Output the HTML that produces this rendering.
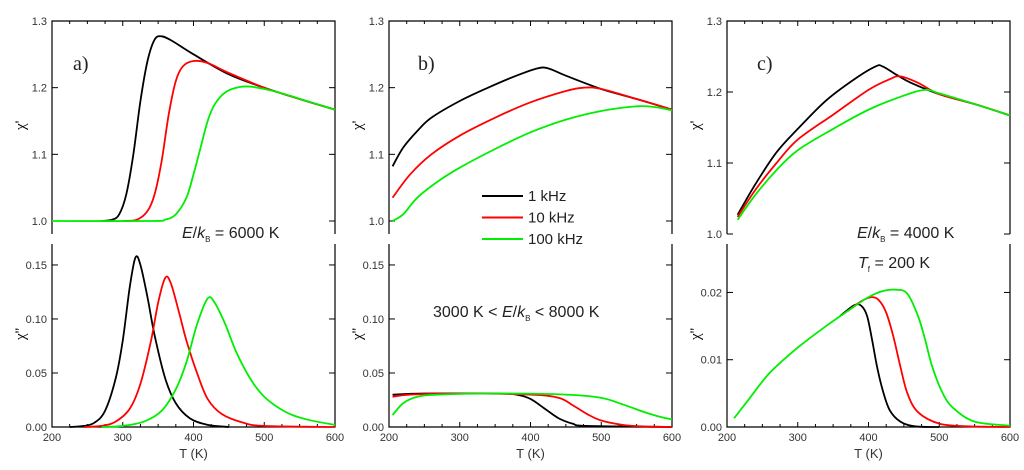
<!DOCTYPE html>
<html><head><meta charset="utf-8"><style>
html,body{margin:0;padding:0;background:#fff;}
svg{display:block;font-family:"Liberation Sans",sans-serif;}
</style></head><body>
<svg id="fig" width="1024" height="470" viewBox="0 0 1024 470"></svg>
<script>
// ---- data (T in K, chi values) ----
const aTopBlack=[[270,1.0],[285,1.002],[295,1.01],[305,1.04],[315,1.10],[325,1.18],[335,1.24],[345,1.272],[355,1.277],[370,1.27],[400,1.25],[450,1.22],[500,1.20],[550,1.183],[600,1.167]];
const aTopRed=[[300,1.0],[320,1.002],[335,1.015],[345,1.04],[355,1.09],[365,1.16],[375,1.21],[385,1.232],[400,1.24],[420,1.237],[450,1.222],[500,1.20],[550,1.183],[600,1.167]];
const aTopGreen=[[200,1.0],[340,1.0],[360,1.002],[375,1.01],[390,1.035],[400,1.07],[410,1.11],[420,1.15],[430,1.175],[445,1.193],[465,1.201],[485,1.201],[520,1.193],[560,1.18],[600,1.167]];
const aBotBlack=[[225,0],[245,0.001],[260,0.004],[275,0.015],[290,0.045],[300,0.08],[310,0.13],[318,0.157],[325,0.15],[335,0.12],[345,0.085],[360,0.045],[375,0.022],[395,0.008],[420,0.002],[450,0]];
const aBotRed=[[245,0],[270,0.001],[290,0.005],[310,0.017],[325,0.04],[340,0.08],[350,0.115],[360,0.138],[368,0.133],[380,0.105],[390,0.08],[405,0.05],[420,0.026],[440,0.012],[470,0.004],[500,0.001],[600,0]];
const aBotGreen=[[270,0],[300,0.001],[330,0.005],[355,0.015],[375,0.035],[390,0.06],[405,0.095],[420,0.119],[430,0.115],[445,0.095],[460,0.07],[480,0.045],[500,0.028],[530,0.014],[560,0.007],[600,0.002]];
const bTopBlack=[[205,1.082],[220,1.11],[240,1.135],[260,1.155],[300,1.18],[340,1.2],[380,1.218],[410,1.229],[425,1.229],[450,1.218],[500,1.198],[550,1.183],[600,1.167]];
const bTopRed=[[205,1.035],[230,1.07],[260,1.10],[300,1.128],[350,1.155],[400,1.178],[450,1.195],[475,1.2],[500,1.198],[550,1.183],[600,1.167]];
const bTopGreen=[[205,1.0],[220,1.01],[240,1.035],[270,1.06],[300,1.08],[350,1.108],[400,1.133],[450,1.152],[500,1.165],[550,1.172],[575,1.171],[600,1.166]];
const bBotBlack=[[205,0.030],[250,0.031],[350,0.031],[380,0.030],[400,0.026],[420,0.017],[440,0.008],[460,0.003],[480,0.001],[600,0]];
const bBotRed=[[205,0.028],[230,0.030],[300,0.031],[400,0.030],[440,0.027],[460,0.02],[480,0.012],[500,0.006],[530,0.002],[560,0.0005],[600,0]];
const bBotGreen=[[205,0.011],[220,0.022],[240,0.028],[270,0.030],[350,0.031],[450,0.030],[500,0.027],[530,0.021],[560,0.014],[580,0.010],[600,0.007]];
const cTopBlack=[[215,1.027],[240,1.07],[270,1.115],[300,1.148],[340,1.188],[380,1.218],[410,1.236],[420,1.236],[440,1.224],[460,1.213],[500,1.197],[550,1.183],[600,1.167]];
const cTopRed=[[215,1.024],[240,1.062],[270,1.10],[300,1.133],[350,1.168],[400,1.203],[430,1.218],[445,1.222],[470,1.213],[500,1.197],[550,1.183],[600,1.167]];
const cTopGreen=[[215,1.02],[240,1.055],[270,1.09],[300,1.118],[350,1.148],[400,1.175],[450,1.195],[480,1.203],[500,1.198],[550,1.183],[600,1.167]];
const cBotBlack=[[360,0.0165],[380,0.0181],[390,0.018],[398,0.0165],[405,0.013],[412,0.009],[420,0.0055],[430,0.0025],[445,0.0008],[465,0.0001],[500,0]];
const cBotRed=[[370,0.0172],[390,0.0187],[405,0.0193],[415,0.0188],[425,0.017],[435,0.0135],[445,0.009],[455,0.005],[470,0.0022],[500,0.0005],[540,0.0001],[600,0]];
const cBotGreen=[[210,0.0013],[230,0.004],[260,0.008],[300,0.0118],[340,0.015],[370,0.0172],[400,0.0193],[420,0.0202],[440,0.0204],[455,0.0198],[470,0.0165],[480,0.013],[490,0.009],[505,0.005],[520,0.0028],[550,0.0008],[600,0.0002]];
const xTicks=[200,300,400,500,600];
const topTicksAB=[1.0,1.1,1.2,1.3];
const topLabelsAB=["1.0","1.1","1.2","1.3"];
const botTicksAB=[0,0.05,0.10,0.15];
const botLabelsAB=["0.00","0.05","0.10","0.15"];
const botTicksC=[0,0.01,0.02];
const botLabelsC=["0.00","0.01","0.02"];
const seriesColors=["#000","#f00","#0e0"];

const NS="http://www.w3.org/2000/svg";
const svg=document.getElementById('fig');
function mk(tag,attrs,parent){const e=document.createElementNS(NS,tag);for(const k in attrs)e.setAttribute(k,attrs[k]);(parent||svg).appendChild(e);return e;}
function smooth(pts){ // Catmull-Rom to bezier
  let d='M'+pts[0][0]+','+pts[0][1];
  for(let i=0;i<pts.length-1;i++){
    const p0=pts[i-1]||pts[i],p1=pts[i],p2=pts[i+1],p3=pts[i+2]||p2;
    const c1=[p1[0]+(p2[0]-p0[0])/6,p1[1]+(p2[1]-p0[1])/6];
    const c2=[p2[0]-(p3[0]-p1[0])/6,p2[1]-(p3[1]-p1[1])/6];
    d+=' C'+c1[0]+','+c1[1]+' '+c2[0]+','+c2[1]+' '+p2[0]+','+p2[1];
  }
  return d;
}

function panel(id,x0,x1,topMin,topMax,top1,botMax,yTop,yTopL,yBot,yBotL,topSeries,botSeries){
  const g=mk('g',{});
  
  
  const sx=t=>x0+(t-200)/400*(x1-x0);
  const tY0=21,tY1=234, bY0=244,bY1=427;
  const syT=v=>top1-(v-topMin)/(topMax-topMin)*(top1-tY0);
  const syB=v=>bY1-v/botMax*(bY1-bY0);
  const fr=mk('path',{d:`M${x0},${tY1} V${tY0} H${x1} V${tY1} M${x0},${bY0} V${bY1} H${x1} V${bY0}`,fill:'none',stroke:'#000','stroke-width':1.2},g);
  
  
  for(let t=200;t<=600;t+=25){const X=sx(t);const L=(t%100===0)?5:3;
    mk('line',{x1:X,y1:tY0,x2:X,y2:tY0+L,stroke:'#000'},g);
    mk('line',{x1:X,y1:bY1,x2:X,y2:bY1-L,stroke:'#000'},g);}
  yTop.forEach((v,i)=>{const Y=syT(v);
    mk('line',{x1:x0,y1:Y,x2:x0+6,y2:Y,stroke:'#000'},g);
    mk('line',{x1:x1,y1:Y,x2:x1-6,y2:Y,stroke:'#000'},g);
    const t=mk('text',{x:x0-5,y:Y+4,'text-anchor':'end','font-size':11,fill:'#333'},g);t.textContent=yTopL[i];
    
    });
  yBot.forEach((v,i)=>{const Y=syB(v);
    mk('line',{x1:x0,y1:Y,x2:x0+6,y2:Y,stroke:'#000'},g);
    mk('line',{x1:x1,y1:Y,x2:x1-6,y2:Y,stroke:'#000'},g);
    const t=mk('text',{x:x0-5,y:Y+4,'text-anchor':'end','font-size':11,fill:'#333'},g);t.textContent=yBotL[i];
    
    });
  xTicks.forEach(v=>{const t=mk('text',{x:sx(v),y:441,'text-anchor':'middle','font-size':11,fill:'#333'},g);t.textContent=v;
    
    });
  const xt=mk('text',{x:(x0+x1)/2,y:458,'text-anchor':'middle','font-size':13,fill:'#333'},g);xt.textContent='T (K)';
  
  
  const y1=mk('text',{x:0,y:0,'font-size':15,'font-family':'Liberation Serif,serif',transform:`translate(${x0-27},130) rotate(-90)`},g);y1.textContent="χ'";
  
  
  const y2=mk('text',{x:0,y:0,'font-size':15,'font-family':'Liberation Serif,serif',transform:`translate(${x0-27},340) rotate(-90)`},g);y2.textContent="χ''";
  
  
  const names=['1khz','10khz','100khz'];
  topSeries.forEach((s,i)=>{const p=mk('path',{d:smooth(s.map(d=>[sx(d[0]),syT(d[1])])),fill:'none',stroke:seriesColors[i],'stroke-width':1.8,'stroke-linejoin':'round'},g);
    
    });
  botSeries.forEach((s,i)=>{const p=mk('path',{d:smooth(s.map(d=>[sx(d[0]),syB(d[1])])),fill:'none',stroke:seriesColors[i],'stroke-width':1.8,'stroke-linejoin':'round'},g);
    
    });
  return g;
}
panel('a',52,335,1.0,1.3,221,0.1694,topTicksAB,topLabelsAB,botTicksAB,botLabelsAB,[aTopBlack,aTopRed,aTopGreen],[aBotBlack,aBotRed,aBotGreen]);
panel('b',389,672,1.0,1.3,221,0.1694,topTicksAB,topLabelsAB,botTicksAB,botLabelsAB,[bTopBlack,bTopRed,bTopGreen],[bBotBlack,bBotRed,bBotGreen]);
panel('c',727,1010,1.0,1.3,234,0.0272,topTicksAB,topLabelsAB,botTicksC,botLabelsC,[cTopBlack,cTopRed,cTopGreen],[cBotBlack,cBotRed,cBotGreen]);

function txt(x,y,html,size,name,extra){const t=mk('text',Object.assign({x:x,y:y,'font-size':size,fill:'#222'},extra||{}));t.innerHTML=html;
  
  return t;}
txt(73,70,'a)',20,'panel-label-a',{'font-family':'Liberation Serif,serif'});
txt(418,70,'b)',20,'panel-label-b',{'font-family':'Liberation Serif,serif'});
txt(757,70,'c)',20,'panel-label-c',{'font-family':'Liberation Serif,serif'});
txt(182,238,'<tspan font-style="italic">E</tspan>/<tspan font-style="italic">k</tspan><tspan font-size="8" dy="4">B</tspan><tspan dy="-4"> = 6000 K</tspan>',16,'energy-annotation-a');
txt(433,317,'3000 K &lt; <tspan font-style="italic">E</tspan>/<tspan font-style="italic">k</tspan><tspan font-size="8" dy="4">B</tspan><tspan dy="-4"> &lt; 8000 K</tspan>',16,'energy-annotation-b');
txt(857,238,'<tspan font-style="italic">E</tspan>/<tspan font-style="italic">k</tspan><tspan font-size="8" dy="4">B</tspan><tspan dy="-4"> = 4000 K</tspan>',16,'energy-annotation-c');
txt(858,268,'<tspan font-style="italic">T</tspan><tspan font-size="8" dy="4">f</tspan><tspan dy="-4"> = 200 K</tspan>',16,'freezing-temp-annotation');
const legLabels=['1 kHz','10 kHz','100 kHz'];
const lg=mk('g',{});


legLabels.forEach((l,i)=>{const Y=196+i*21.5;
  const e=mk('g',{},lg);
  
  
  mk('line',{x1:482,y1:Y,x2:523,y2:Y,stroke:seriesColors[i],'stroke-width':2},e);
  const t=mk('text',{x:528,y:Y+5,'font-size':15,fill:'#222'},e);t.textContent=l;});
</script>
</body></html>
